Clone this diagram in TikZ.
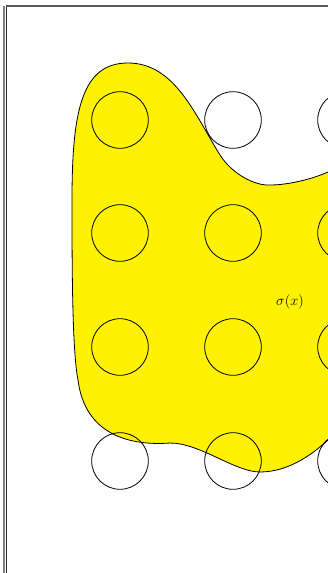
\documentclass[tikz,border=0pt]{standalone}
\begin{document}
\begin{tikzpicture}[x=1pt,y=-1pt,
  unit/.style={circle,draw=black,line width=0.8pt,inner sep=0pt,minimum size=56.6pt},
  blob/.style={fill=yellow,draw=black,line width=0.8pt},
  frameA/.style={draw=gray,line width=2pt},
  frameB/.style={draw=black!85,line width=1pt}]
\useasboundingbox (0,0) rectangle (328,573);
\clip (0,0) rectangle (328,573);
\fill[white] (0,0) rectangle (328,573);
% frame
\draw[frameA] (4,6) -- (4,573);
\draw[frameB] (6.5,6) -- (6.5,573);
\draw[draw=gray!70!black,line width=1.6pt] (6,5.8) -- (328,5.8);
% blob
\draw[blob] (72,200)
  .. controls (72,110) and (82,63) .. (128,63)
  .. controls (175,63) and (195,115) .. (220,155)
  .. controls (232,174) and (255,186) .. (270,185)
  .. controls (290,185) and (315,178) .. (328,172)
  .. controls (350,162) and (390,150) .. (390,300)
  .. controls (390,400) and (345,425) .. (328,440)
  .. controls (315,452) and (290,472) .. (260,472)
  .. controls (235,472) and (200,443) .. (170,443)
  .. controls (130,446) and (85,435) .. (78,380)
  .. controls (72,350) and (72,260) .. cycle;
% units
\foreach \c/\cx in {1/120,2/233,3/346}{
  \foreach \r/\ry in {1/120,2/233,3/347,4/461}{
    \node[unit] (c\r\c) at (\cx,\ry) {};
  }
}
\node (sigma) at (290,302) {\fontsize{14}{16}\selectfont$\sigma(x)$};
\end{tikzpicture}
\end{document}
